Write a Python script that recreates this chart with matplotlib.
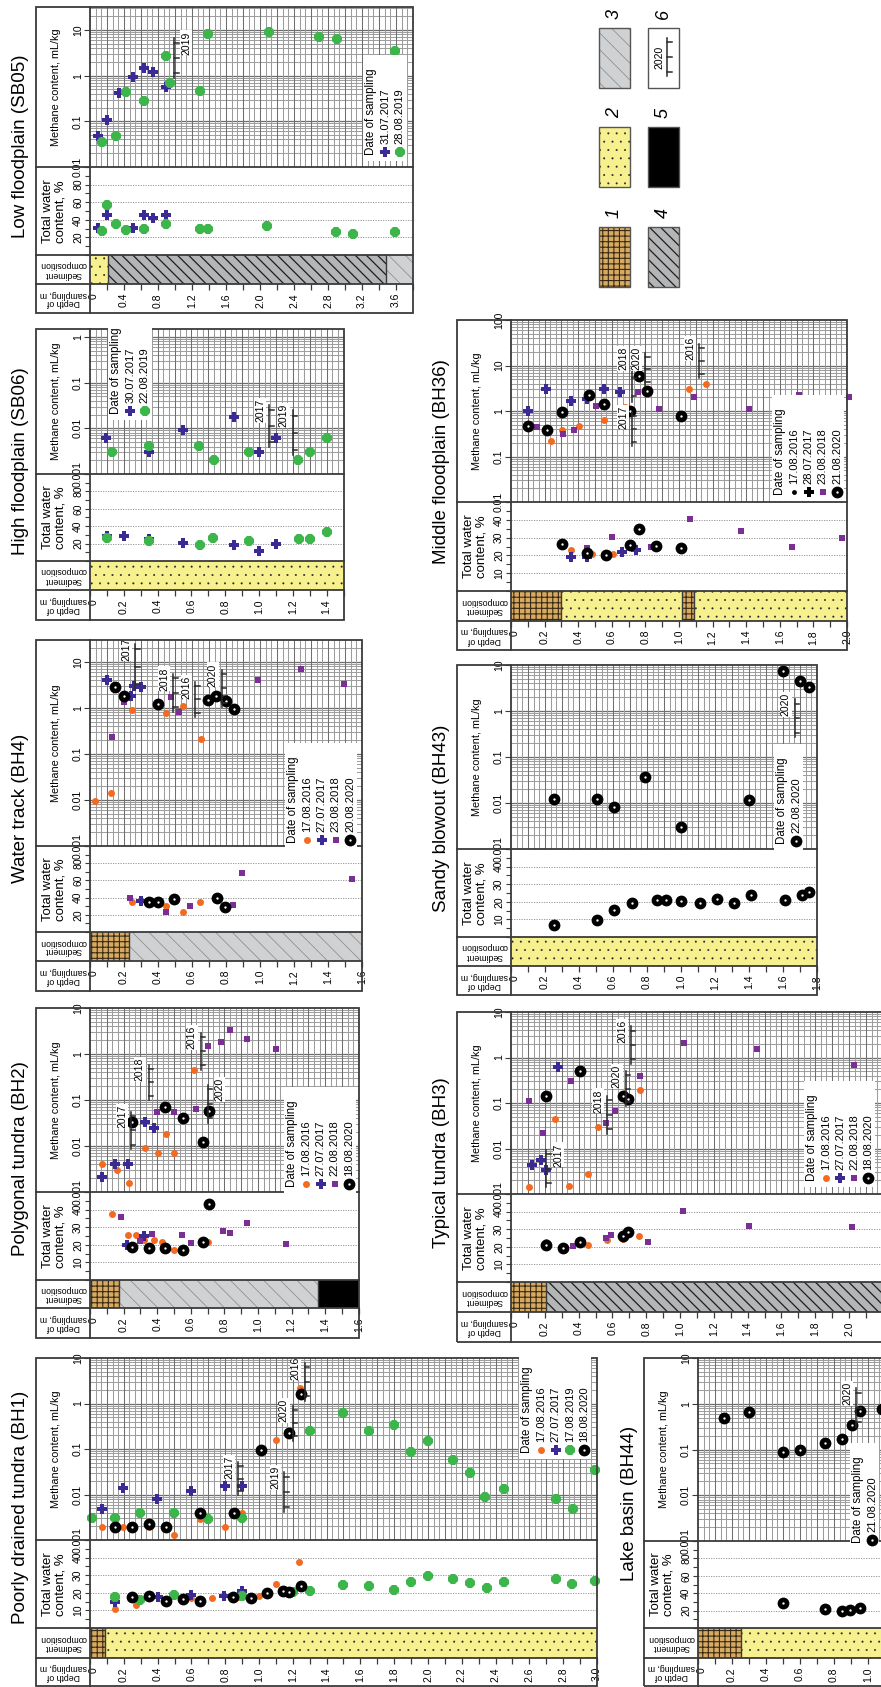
import numpy as np
import matplotlib
matplotlib.use('Agg')
import matplotlib.pyplot as plt
from matplotlib.patches import Rectangle
from matplotlib.lines import Line2D
from matplotlib.ticker import MultipleLocator, FixedLocator, NullLocator
from matplotlib.transforms import blended_transform_factory as blend

plt.rcParams['font.family'] = ['Liberation Sans', 'DejaVu Sans']
plt.rcParams['hatch.linewidth'] = 0.7

# ---------------- data: depth (m), methane (mL/kg), total water (%) ----------------
# o16 = 2016 orange dot, p17 = 2017 blue cross, s18 = 2018 purple square,
# g19 = 2019 green dot, b20 = 2020 black ring

# Low floodplain (SB05)
sb05_meth = {
    'p17': ([0.09, 0.20, 0.34, 0.50, 0.64, 0.745, 0.89], [0.048, 0.107, 0.41, 0.92, 1.5, 1.19, 0.56]),
    'g19': ([0.14, 0.30, 0.42, 0.64, 0.89, 0.94, 1.29, 1.39, 2.10, 2.69, 2.90, 3.59],
            [0.036, 0.048, 0.44, 0.28, 2.7, 0.70, 0.46, 8.0, 9.2, 6.9, 6.2, 3.5]),
}
sb05_water = {
    'p17': ([0.09, 0.20, 0.50, 0.64, 0.745, 0.89], [31, 46, 31, 46, 42, 46]),
    'g19': ([0.14, 0.20, 0.30, 0.42, 0.64, 0.89, 1.29, 1.39, 2.08, 2.89, 3.09, 3.59],
            [27, 57, 35, 28, 30, 35, 30, 29, 33, 26, 23.5, 26.5]),
}
sb05_marks = [('2019', 0.99, 0.9, 6.7, 1)]

# High floodplain (SB06)
sb06_meth = {
    'p17': ([0.095, 0.35, 0.55, 0.85, 1.0, 1.10], [0.0062, 0.0030, 0.0091, 0.018, 0.0030, 0.0062]),
    'g19': ([0.13, 0.35, 0.645, 0.735, 0.94, 1.23, 1.30, 1.40],
            [0.0030, 0.0041, 0.0041, 0.0020, 0.0030, 0.0020, 0.0030, 0.0063]),
}
sb06_water = {
    'p17': ([0.10, 0.20, 0.35, 0.55, 0.85, 1.0, 1.10], [28.6, 28.5, 25.5, 21, 18.7, 11, 20]),
    'g19': ([0.10, 0.35, 0.65, 0.73, 0.94, 1.235, 1.30, 1.40], [26.6, 22.8, 18.7, 26, 23, 25.5, 25.5, 33]),
}
sb06_marks = [('2017', 1.06, 0.0039, 0.032, -1), ('2019', 1.20, 0.0026, 0.025, -1)]

# Water track (BH4)
bh4_meth = {
    'o16': ([0.03, 0.124, 0.247, 0.445, 0.547, 0.65], [0.0094, 0.0139, 0.92, 0.79, 1.12, 0.21]),
    'p17': ([0.10, 0.206, 0.24, 0.259, 0.30], [4.0, 1.65, 1.8, 2.96, 2.8]),
    's18': ([0.13, 0.198, 0.476, 0.524, 0.796, 0.99, 1.24, 1.494], [0.23, 1.33, 1.74, 0.81, 1.65, 4.0, 6.9, 3.3]),
    'b20': ([0.147, 0.20, 0.398, 0.696, 0.743, 0.80, 0.845], [2.87, 1.8, 1.2, 1.51, 1.8, 1.4, 0.97]),
}
bh4_water = {
    'o16': ([0.247, 0.445, 0.547, 0.647], [34.7, 29.7, 23, 34.7]),
    'p17': ([0.298], [35.5]),
    's18': ([0.237, 0.445, 0.586, 0.843, 0.896, 1.54], [40, 23, 30, 31.6, 68.6, 61.3]),
    'b20': ([0.347, 0.398, 0.494, 0.745, 0.796], [34.7, 34.7, 37.8, 39.3, 28.6]),
}
bh4_marks = [('2017', 0.265, 2.46, 24.6, -1), ('2018', 0.49, 0.82, 5.5, -1),
             ('2016', 0.62, 0.64, 3.67, -1), ('2020', 0.775, 1.05, 6.7, -1)]

# Polygonal tundra (BH2)
bh2_meth = {
    'o16': ([0.071, 0.163, 0.23, 0.327, 0.403, 0.45, 0.50, 0.62],
            [0.0041, 0.0030, 0.0016, 0.0089, 0.0069, 0.018, 0.0069, 0.45]),
    'p17': ([0.071, 0.149, 0.228, 0.327, 0.38], [0.0021, 0.0041, 0.0041, 0.034, 0.025]),
    's18': ([0.40, 0.50, 0.633, 0.704, 0.78, 0.833, 0.934, 1.107, 1.56],
            [0.055, 0.055, 0.064, 1.5, 1.84, 3.4, 2.14, 1.28, 0.071]),
    'b20': ([0.252, 0.448, 0.552, 0.673, 0.706], [0.034, 0.070, 0.041, 0.0123, 0.057]),
}
bh2_water = {
    'o16': ([0.129, 0.228, 0.276, 0.323, 0.38, 0.43, 0.50, 0.56, 0.704],
            [37.6, 25.6, 25.6, 22.7, 22.5, 21.8, 16.8, 17.3, 21.4]),
    'p17': ([0.218, 0.323], [19.7, 24.9]),
    's18': ([0.183, 0.30, 0.37, 0.55, 0.60, 0.79, 0.833, 0.934, 1.167],
            [36, 22.4, 26.4, 25.4, 21, 27.7, 26.8, 32.5, 20.6]),
    'b20': ([0.252, 0.35, 0.448, 0.552, 0.673, 0.706], [18.9, 18.3, 18.3, 17.2, 21.4, 43.4]),
}
bh2_marks = [('2017', 0.244, 0.0085, 0.056, -1), ('2018', 0.35, 0.10, 0.59, -1),
             ('2016', 0.66, 0.46, 2.9, -1), ('2020', 0.70, 0.032, 0.216, 1)]

# Poorly drained tundra (BH1)
bh1_meth = {
    'o16': ([0.071, 0.197, 0.349, 0.497, 0.651, 0.80, 0.90, 1.10, 1.243],
            [0.0019, 0.0019, 0.0019, 0.0013, 0.0029, 0.0019, 0.0040, 0.16, 2.24]),
    'p17': ([0.071, 0.197, 0.395, 0.598, 0.80, 0.90], [0.0048, 0.0138, 0.0078, 0.012, 0.0155, 0.0152]),
    'g19': ([0.01, 0.148, 0.298, 0.497, 0.70, 0.90, 1.18, 1.30, 1.497, 1.653, 1.80, 1.90, 2.0,
             2.15, 2.25, 2.34, 2.45, 2.755, 2.86, 2.99],
            [0.0030, 0.0030, 0.0039, 0.0039, 0.0029, 0.0030, 0.23, 0.245, 0.62, 0.245, 0.34, 0.085,
             0.148, 0.058, 0.029, 0.0089, 0.013, 0.0078, 0.0048, 0.034]),
    'b20': ([0.148, 0.25, 0.349, 0.448, 0.651, 0.85, 1.01, 1.176, 1.247],
            [0.0019, 0.0019, 0.0022, 0.0019, 0.0040, 0.0040, 0.093, 0.23, 1.6]),
}
bh1_water = {
    'o16': ([0.148, 0.274, 0.45, 0.598, 0.724, 0.877, 0.998, 1.10, 1.237],
            [10.7, 13.1, 16.6, 17.1, 17.1, 17.7, 18.3, 25.1, 37.5]),
    'p17': ([0.148, 0.40, 0.598, 0.795, 0.90], [15, 17.5, 18.9, 18.3, 20.8]),
    'g19': ([0.148, 0.298, 0.497, 0.90, 1.20, 1.30, 1.50, 1.653, 1.80, 1.90, 2.0, 2.15, 2.25,
             2.35, 2.45, 2.755, 2.85, 2.99],
            [17.5, 15.8, 18.9, 18.3, 20.2, 21.1, 24.6, 23.6, 21.5, 25.9, 29.3, 28, 25.5, 23,
             26.3, 27.6, 25, 26.9]),
    'b20': ([0.25, 0.349, 0.448, 0.55, 0.651, 0.848, 0.95, 1.05, 1.144, 1.176, 1.247],
            [17.5, 18.3, 15.4, 16.4, 15.6, 17.5, 17, 19.8, 21.1, 20.2, 23.6]),
}
bh1_marks = [('2017', 0.876, 0.0096, 0.051, -1), ('2019', 1.15, 0.0041, 0.031, -1),
             ('2020', 1.20, 0.153, 0.89, -1), ('2016', 1.27, 1.15, 7.8, -1)]

# Middle floodplain (BH36)
bh36_meth = {
    'o16': ([0.236, 0.305, 0.407, 0.556, 0.68, 1.06, 1.16], [0.22, 0.39, 0.48, 0.63, 1.22, 3.0, 3.9]),
    'p17': ([0.103, 0.206, 0.355, 0.454, 0.556, 0.65], [1.0, 3.0, 1.64, 1.84, 3.0, 2.6]),
    's18': ([0.157, 0.307, 0.375, 0.506, 0.754, 0.883, 1.09, 1.415, 1.716, 2.01],
            [0.45, 0.31, 0.39, 1.26, 2.57, 1.12, 2.0, 1.12, 2.2, 2.0]),
    'b20': ([0.103, 0.213, 0.305, 0.462, 0.556, 0.71, 0.76, 0.81, 1.01],
            [0.46, 0.39, 0.95, 2.2, 1.44, 0.98, 5.9, 2.8, 0.78]),
}
bh36_water = {
    'o16': ([0.36, 0.48, 0.607], [23.2, 20.6, 20.6]),
    'p17': ([0.36, 0.454, 0.66, 0.745], [19.1, 19, 21.9, 23]),
    's18': ([0.45, 0.60, 0.835, 1.066, 1.367, 1.67, 1.97], [24.4, 30.5, 24.8, 40.7, 33.7, 25, 29.5]),
    'b20': ([0.306, 0.454, 0.565, 0.71, 0.76, 0.865, 1.014], [26.3, 21.4, 20.4, 26.1, 35, 25.3, 24.4]),
}
bh36_marks = [('2017', 0.72, 0.17, 0.95, -1), ('2018', 0.72, 1.56, 18.6, -1),
              ('2020', 0.80, 3.6, 18.6, -1), ('2016', 1.12, 5.4, 30, -1)]

# Sandy blowout (BH43)
bh43_meth = {
    'b20': ([0.255, 0.505, 0.606, 0.79, 1.0, 1.40, 1.60, 1.70, 1.75],
            [0.0124, 0.0124, 0.0080, 0.037, 0.0030, 0.0118, 7.3, 4.4, 3.4]),
}
bh43_water = {
    'b20': ([0.255, 0.505, 0.606, 0.71, 0.857, 0.91, 1.0, 1.11, 1.21, 1.31, 1.41, 1.61, 1.71, 1.75],
            [6.8, 9.8, 15.3, 19.6, 20.9, 20.9, 20.2, 19.6, 21.5, 19.6, 23.8, 21.1, 23.8, 25.6]),
}
bh43_marks = [('2020', 1.67, 0.27, 1.8, -1)]

# Typical tundra (BH3)
bh3_meth = {
    'o16': ([0.109, 0.262, 0.345, 0.458, 0.512, 0.764], [0.00145, 0.045, 0.00147, 0.0028, 0.030, 0.19]),
    'p17': ([0.127, 0.177, 0.21, 0.278], [0.0044, 0.0057, 0.0034, 0.61]),
    's18': ([0.109, 0.19, 0.353, 0.561, 0.615, 0.766, 1.024, 1.458, 2.03],
            [0.112, 0.0216, 0.30, 0.037, 0.066, 0.39, 2.08, 1.56, 0.69]),
    'b20': ([0.208, 0.409, 0.66, 0.695], [0.145, 0.51, 0.145, 0.12]),
}
bh3_water = {
    'o16': ([0.21, 0.458, 0.567, 0.665, 0.76], [22.5, 21.3, 23.8, 24.7, 26]),
    's18': ([0.367, 0.561, 0.59, 0.81, 1.016, 1.41, 2.02], [20.3, 24.9, 26.6, 22.5, 40.3, 31.8, 31.4]),
    'b20': ([0.21, 0.31, 0.409, 0.66, 0.695], [20.9, 19.4, 22.5, 26, 28.2]),
}
bh3_marks = [('2017', 0.21, 0.0014, 0.0093, 1), ('2018', 0.57, 0.021, 0.143, -1),
             ('2020', 0.68, 0.086, 0.50, -1), ('2016', 0.71, 0.72, 4.9, -1)]

# Lake basin (BH44)
bh44_meth = {
    'b20': ([0.151, 0.30, 0.50, 0.598, 0.745, 0.847, 0.906, 0.955, 1.08],
            [0.50, 0.65, 0.087, 0.098, 0.137, 0.17, 0.34, 0.68, 0.77]),
}
bh44_water = {
    'b20': ([0.50, 0.745, 0.847, 0.896, 0.95], [28.5, 21.6, 20, 20.8, 22.7]),
}
bh44_marks = [('2020', 0.93, 0.31, 2.2, -1)]

# ---------------- drawing ----------------
W, H = 881, 1687
fig = plt.figure(figsize=(W / 100, H / 100), dpi=100)
FR = '#3a3a3a'


def fx(x):
    return x / W


def fy(y):
    return 1 - y / H


def fline(xs, ys, **kw):
    fig.add_artist(Line2D([fx(v) for v in xs], [fy(v) for v in ys], transform=fig.transFigure, **kw))


STY = {
    'o16': ('o', '#f26b21', 5.0),
    'p17': ('P', '#3b2a94', 7.6),
    's18': ('s', '#7b2f95', 5.0),
    'g19': ('8', '#3cb54a', 7.3),
    'b20': ('o', 'black', 8.5),
    'k16': ('o', 'black', 3.5),
    'k17': ('P', 'black', 7.0),
}


def mk_lines(key, x, y, **kw):
    m, c, s = STY[key]
    out = [Line2D(x, y, ls='none', marker=m, color=c, ms=s, mew=0, **kw)]
    if key == 'b20':
        out.append(Line2D(x, y, ls='none', marker='o', color='white', ms=1.7, mew=0, **kw))
    return out


# face colour, hatch, hatch colour, hatch line width
PAT = {
    'peat': ('#d6aa60', '+++', '#3a2a14', 0.8),
    'sand': ('#f6f08f', '..', '#222222', 0.2),
    'silt': ('#d0d1d3', '\\\\', '#8c8c8c', 0.55),
    'clay': ('#b4b5b7', '\\\\\\', '#1e1e1e', 0.9),
    'ice': ('#000000', None, '#000000', 0.5),
}


def pat_rect(xy, w, h, kind, **kw):
    fc, hatch, hc, hlw = PAT[kind]
    with plt.rc_context({'hatch.linewidth': hlw}):
        p = Rectangle(xy, w, h, facecolor=fc, hatch=hatch, edgecolor=hc, lw=0, **kw)
    if hasattr(p, 'set_hatch_linewidth'):
        p.set_hatch_linewidth(hlw)
    return p


def year_mark(ax, ppm, year, d, vlo, vhi, side):
    ax.plot([d, d], [vlo, vhi], color='#2a2a2a', lw=1.1, zorder=7, clip_on=False)
    lo, hi = np.log10(vlo), np.log10(vhi)
    for f in (0.12, 0.5, 0.88):
        v = 10 ** (lo + f * (hi - lo))
        ax.plot([d, d + 4.5 / ppm], [v, v], color='#2a2a2a', lw=1.1, zorder=7, clip_on=False)
    ax.annotate(year, (d, vhi), xytext=(-9 if side < 0 else 12, -5), textcoords='offset pixels',
                rotation=90, ha='center', va='center', fontsize=7.5, zorder=8,
                bbox=dict(boxstyle='square,pad=0.08', fc='white', ec='none'))


def date_legend(x0, y0, entries, tlen=94, dx=14.3):
    n = len(entries)
    fig.add_artist(Rectangle((fx(x0 - 8), fy(y0 + 6)), (n * dx + 15) / W, (tlen + 12) / H,
                             transform=fig.transFigure, fc='white', ec='none', zorder=4))
    fig.text(fx(x0), fy(y0), 'Date of sampling', rotation=90, ha='center', va='bottom',
             fontsize=8.3, zorder=5)
    for i, (key, lab) in enumerate(entries):
        xi = x0 + (i + 1) * dx
        for ln in mk_lines(key, [fx(xi)], [fy(y0 - 3)], transform=fig.transFigure, zorder=6):
            fig.add_artist(ln)
        fig.text(fx(xi), fy(y0 - 11), lab, rotation=90, ha='center', va='bottom', fontsize=8.0, zorder=5)


def panel(name, x0, ppm, dmax, ys, mlim, wmax, layers, meth, water, marks, title_xy, step=0.1):
    ytop, ym, yw, ysd, yb = ys
    wpx = dmax * ppm
    x1 = x0 + wpx

    def add_ax(y_lo, y_hi):
        ax = fig.add_axes([fx(x0), fy(y_hi), wpx / W, (y_hi - y_lo) / H])
        for sp in ax.spines.values():
            sp.set_visible(False)
        ax.set_facecolor('none')
        return ax

    axm = add_ax(ytop, ym)
    axw = add_ax(ym, yw)
    axs = add_ax(yw, ysd)

    # methane track: log grid
    axm.set_yscale('log')
    e0 = int(np.floor(np.log10(mlim[0]) + 1e-9))
    e1 = int(np.ceil(np.log10(mlim[1]) - 1e-9))
    for e in range(e0, e1 + 1):
        for k in range(1, 10):
            v = k * 10.0 ** e
            if mlim[0] < v < mlim[1]:
                axm.axhline(v, color='#6e6e6e' if k == 1 else '#a0a0a0', lw=0.9 if k == 1 else 0.75, zorder=1)
    nsub = int(round(dmax / step * 3))
    for i in range(1, nsub):
        axm.axvline(i * step / 3, color='#6e6e6e' if i % 3 == 0 else '#9c9c9c', lw=0.75, zorder=1)
    decs = [10.0 ** e for e in range(e0, e1 + 1) if mlim[0] * 0.999 <= 10.0 ** e <= mlim[1] * 1.001]
    axm.yaxis.set_major_locator(FixedLocator(decs))
    axm.yaxis.set_minor_locator(NullLocator())
    axm.tick_params(axis='y', direction='out', length=4, width=0.8, color=FR, labelleft=False)
    axm.set_xticks([])
    tr = blend(axm.transAxes, axm.transData)
    for v in decs:
        axm.text(-7 / wpx, v, f'{v:g}', transform=tr, rotation=90, ha='right', va='center', fontsize=7.5)
    for key in ('o16', 'p17', 's18', 'g19', 'b20'):
        if key in meth:
            for ln in mk_lines(key, *meth[key], clip_on=False, zorder=6):
                axm.add_line(ln)
    for year, d, vlo, vhi, side in marks:
        year_mark(axm, ppm, year, d, vlo, vhi, side)
    axm.set_xlim(0, dmax)
    axm.set_ylim(*mlim)

    # water track
    lab = 20 if wmax == 100 else 10
    trw = blend(axw.transAxes, axw.transData)
    for v in range(lab, wmax, lab):
        axw.axhline(v, color='#8a8a8a', lw=0.6, ls=(0, (1.5, 1.5)), zorder=1)
        axw.text(-7 / wpx, v, str(v), transform=trw, rotation=90, ha='right', va='center', fontsize=7.5)
    axw.yaxis.set_major_locator(MultipleLocator(lab / 2))
    axw.tick_params(axis='y', direction='out', length=3.5, width=0.8, color=FR, labelleft=False)
    axw.set_xticks([])
    for key in ('o16', 'p17', 's18', 'g19', 'b20'):
        if key in water:
            for ln in mk_lines(key, *water[key], clip_on=False, zorder=6):
                axw.add_line(ln)
    axw.set_xlim(0, dmax)
    axw.set_ylim(0, wmax)

    # sediment track + depth scale
    for d0, d1, kind in layers:
        axs.add_patch(pat_rect((d0, 0), d1 - d0, 1, kind, zorder=1))
        if d0 > 0:
            axs.axvline(d0, color=FR, lw=1.0, zorder=2)
    axs.xaxis.set_major_locator(MultipleLocator(step))
    axs.tick_params(axis='x', direction='out', length=4.5, width=0.9, color=FR, labelbottom=False)
    axs.set_yticks([])
    trs = blend(axs.transData, axs.transAxes)
    for i in range(0, int(round(dmax / step)) + 1, 2):
        d = i * step
        if x0 + d * ppm > W - 4:
            continue
        xoff = 4 / ppm if i == 0 else 0
        axs.text(d + xoff, -9 / (ysd - yw), '0' if i == 0 else f'{d:.1f}', transform=trs, rotation=90,
                 ha='center', va='top', fontsize=7.5)
    axs.set_xlim(0, dmax)
    axs.set_ylim(0, 1)

    # frame
    fig.add_artist(Rectangle((fx(x0 - 54), fy(yb)), (wpx + 54) / W, (yb - ytop) / H,
                             transform=fig.transFigure, fill=False, ec=FR, lw=1.3, zorder=3))
    for yy in (ym, yw, ysd):
        fline([x0 - 54, x1], [yy, yy], color=FR, lw=1.3, zorder=3)
    fline([x0, x0], [ytop, yb], color=FR, lw=1.3, zorder=3)

    # left labels
    fig.text(fx(x0 - 34), fy((ytop + ym) / 2), 'Methane content, mL/kg', rotation=90,
             ha='center', va='center', fontsize=7.8)
    fig.text(fx(x0 - 36), fy((ym + yw) / 2), 'Total water\ncontent, %', rotation=90,
             ha='center', va='center', fontsize=9.5, multialignment='left', linespacing=1.05)
    fig.text(fx(x0 - 27), fy((yw + ysd) / 2), 'Sediment\ncomposition', rotation=180,
             ha='center', va='center', fontsize=6.3, linespacing=1.0)
    fig.text(fx(x0 - 27), fy((ysd + yb) / 2), 'Depth of\nsampling, m', rotation=180,
             ha='center', va='center', fontsize=6.3, linespacing=1.0)
    fig.text(fx(title_xy[0]), fy(title_xy[1]), name, rotation=90, ha='center', va='center', fontsize=13.5)


panel('Low floodplain (SB05)', 90, 85, 3.8, (7, 167, 255, 284, 313), (0.01, 31.8), 100,
      [(0, 0.21, 'sand'), (0.21, 3.48, 'clay'), (3.48, 3.8, 'silt')],
      sb05_meth, sb05_water, sb05_marks, (21, 146), step=0.2)
panel('High floodplain (SB06)', 90, 169, 1.5, (329, 474, 561, 590, 620), (0.001, 1.5), 100,
      [(0, 1.5, 'sand')], sb06_meth, sb06_water, sb06_marks, (21, 461))
panel('Water track (BH4)', 90, 170, 1.6, (640, 846, 932, 961, 991), (0.001, 30), 100,
      [(0, 0.23, 'peat'), (0.23, 1.6, 'silt')], bh4_meth, bh4_water, bh4_marks, (21, 808))
panel('Polygonal tundra (BH2)', 90, 168, 1.6, (1008, 1192, 1280, 1308, 1338), (0.001, 10), 50,
      [(0, 0.17, 'peat'), (0.17, 1.36, 'silt'), (1.36, 1.6, 'ice')],
      bh2_meth, bh2_water, bh2_marks, (21, 1159))
panel('Poorly drained tundra (BH1)', 90, 169, 3.0, (1358, 1540, 1628, 1658, 1686), (0.001, 10), 50,
      [(0, 0.09, 'peat'), (0.09, 3.0, 'sand')], bh1_meth, bh1_water, bh1_marks, (21, 1507))
panel('Middle floodplain (BH36)', 511, 168, 2.0, (320, 502, 591, 621, 650), (0.01, 100), 50,
      [(0, 0.30, 'peat'), (0.30, 1.02, 'sand'), (1.02, 1.09, 'peat'), (1.09, 2.0, 'sand')],
      bh36_meth, bh36_water, bh36_marks, (441, 462))
panel('Sandy blowout (BH43)', 511, 170, 1.8, (665, 849, 937, 966, 995), (0.001, 10), 50,
      [(0, 1.8, 'sand')], bh43_meth, bh43_water, bh43_marks, (441, 818))
panel('Typical tundra (BH3)', 511, 169, 2.3, (1012, 1194, 1282, 1312, 1342), (0.001, 10), 50,
      [(0, 0.21, 'peat'), (0.21, 2.3, 'clay')], bh3_meth, bh3_water, bh3_marks, (441, 1163))
panel('Lake basin (BH44)', 698, 170, 1.2, (1358, 1541, 1628, 1658, 1686), (0.001, 10), 100,
      [(0, 0.25, 'peat'), (0.25, 1.2, 'sand')], bh44_meth, bh44_water, bh44_marks, (629, 1503))

# sampling-date legends
date_legend(371, 155, [('p17', '31.07.2017'), ('g19', '28.08.2019')])
date_legend(116, 414, [('p17', '30.07.2017'), ('g19', '22.08.2019')])
date_legend(293, 843, [('o16', '17.08.2016'), ('p17', '27.07.2017'), ('s18', '23.08.2018'), ('b20', '20.08.2020')])
date_legend(292, 1187, [('o16', '17.08.2016'), ('p17', '27.07.2017'), ('s18', '22.08.2018'), ('b20', '18.08.2020')])
date_legend(527, 1453, [('o16', '17.08.2016'), ('p17', '27.07.2017'), ('g19', '17.08.2019'), ('b20', '18.08.2020')])
date_legend(780, 495, [('k16', '17.08.2016'), ('k17', '28.07.2017'), ('s18', '23.08.2018'), ('b20', '21.08.2020')])
date_legend(782, 844, [('b20', '22.08.2020')])
date_legend(812, 1181, [('o16', '17.08.2016'), ('p17', '27.07.2017'), ('s18', '22.08.2018'), ('b20', '18.08.2020')],
            dx=14.0)
date_legend(858, 1543, [('b20', '21.08.2020')], dx=14.0)

# sediment legend (1-6)
boxes = [(599, 227, 'peat', '1'), (599, 127, 'sand', '2'), (599, 28, 'silt', '3'),
         (648, 227, 'clay', '4'), (648, 127, 'ice', '5'), (648, 28, None, '6')]
bw, bh = 31, 60
for bx, by, kind, num in boxes:
    if kind:
        fig.add_artist(pat_rect((fx(bx), fy(by + bh)), bw / W, bh / H, kind, transform=fig.transFigure, zorder=2))
    fig.add_artist(Rectangle((fx(bx), fy(by + bh)), bw / W, bh / H, transform=fig.transFigure,
                             fill=False, ec='#555555', lw=1.0, zorder=3))
    fig.text(fx(bx + bw / 2), fy(by - 14), num, rotation=90, ha='center', va='center',
             fontsize=13, style='italic')
fig.text(fx(659), fy(57), '2020', rotation=90, ha='center', va='center', fontsize=7.5)
fline([667, 667], [38, 76], color='#2a2a2a', lw=1.1, zorder=4)
for ty in (42, 57, 72):
    fline([667, 671.5], [ty, ty], color='#2a2a2a', lw=1.1, zorder=4)

fig.savefig('out.png', dpi=100)
